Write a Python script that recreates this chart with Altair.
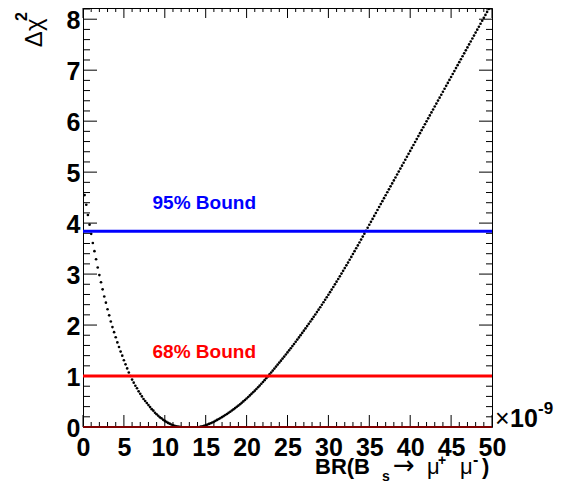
import altair as alt
import pandas as pd

# scan of delta chi2 vs BR(Bs -> mu mu), in units of 1e-9
SCAN_STEP = 0.2
LEFT_START = 0.2
RIGHT_START = 14.2

# left branch, 0.2 ... 12.0
DCHI2_LEFT = [
    4.55, 4.36, 4.16, 3.97, 3.79, 3.61, 3.45, 3.29, 3.13, 2.98,
    2.84, 2.70, 2.56, 2.44, 2.31, 2.19, 2.07, 1.96, 1.86, 1.76,
    1.66, 1.57, 1.48, 1.40, 1.31, 1.23, 1.15, 1.07, 1.00, 0.93,
    0.87, 0.81, 0.76, 0.70, 0.65, 0.60, 0.55, 0.51, 0.47, 0.43,
    0.39, 0.35, 0.32, 0.28, 0.25, 0.22, 0.19, 0.17, 0.14, 0.12,
    0.10, 0.08, 0.065, 0.05, 0.035, 0.025, 0.015, 0.008, 0.003, 0.0,
]

# right branch, 14.2 ... 50.0
DCHI2_RIGHT = [
    0.0, 0.007, 0.015, 0.024, 0.034, 0.047, 0.06, 0.074, 0.089, 0.104,
    0.121, 0.139, 0.157, 0.175, 0.194, 0.214, 0.235, 0.256, 0.278, 0.30,
    0.323, 0.347, 0.371, 0.395, 0.42, 0.447, 0.474, 0.502, 0.53, 0.559,
    0.589, 0.619, 0.65, 0.681, 0.713, 0.746, 0.779, 0.813, 0.848, 0.883,
    0.919, 0.956, 0.993, 1.031, 1.069, 1.107, 1.146, 1.185, 1.224, 1.263,
    1.302, 1.342, 1.382, 1.422, 1.463, 1.504, 1.545, 1.587, 1.629, 1.672,
    1.715, 1.758, 1.802, 1.846, 1.89, 1.934, 1.979, 2.024, 2.069, 2.115,
    2.161, 2.208, 2.255, 2.302, 2.35, 2.398, 2.447, 2.496, 2.545, 2.595,
    2.645, 2.696, 2.747, 2.799, 2.851, 2.903, 2.956, 3.009, 3.063, 3.117,
    3.171, 3.226, 3.281, 3.337, 3.393, 3.449, 3.506, 3.563, 3.62, 3.677,
    3.735, 3.793, 3.851, 3.909, 3.967, 4.025, 4.083, 4.141, 4.199, 4.257,
    4.315, 4.373, 4.431, 4.489, 4.547, 4.605, 4.663, 4.721, 4.779, 4.837,
    4.895, 4.953, 5.011, 5.069, 5.127, 5.185, 5.243, 5.301, 5.359, 5.417,
    5.475, 5.533, 5.591, 5.649, 5.707, 5.765, 5.823, 5.881, 5.939, 5.997,
    6.055, 6.113, 6.171, 6.229, 6.287, 6.345, 6.403, 6.461, 6.519, 6.577,
    6.635, 6.693, 6.751, 6.809, 6.867, 6.925, 6.983, 7.041, 7.099, 7.157,
    7.215, 7.273, 7.331, 7.389, 7.447, 7.505, 7.563, 7.621, 7.679, 7.737,
    7.795, 7.853, 7.911, 7.969, 8.027, 8.085, 8.143, 8.201, 8.259, 8.317,
]

BOUND_LEVELS = [3.84, 1.0]
BOUND_LABELS = ['95% Bound', '68% Bound']
BOUND_COLORS = ['#0000ff', '#ff0000']
LABEL_X = [8.5, 8.5]
LABEL_Y = [4.27, 1.36]

X_MAJOR = [0, 5, 10, 15, 20, 25, 30, 35, 40, 45, 50]
Y_MAJOR = [0, 1, 2, 3, 4, 5, 6, 7, 8]
X_MINOR = [v for v in range(0, 51) if v % 5]
Y_MINOR = [round(0.2 * i, 1) for i in range(1, 42) if i % 5]

# x-axis title pieces: BR(B_s -> mu+ mu-)
X_TITLE_PARTS = ['BR(B', 's', '→', 'μ', '+', 'μ', '-', ')']
Y_TITLE = 'Δχ'
Y_TITLE_SUP = '2'
EXPONENT_PARTS = ['×', '10', '-9']

XMAX, YMAX = 50, 8.22
W, H = 409, 419
FONT = 'Liberation Sans'

br = [round(LEFT_START + SCAN_STEP * i, 1) for i in range(len(DCHI2_LEFT))] + \
     [round(RIGHT_START + SCAN_STEP * i, 1) for i in range(len(DCHI2_RIGHT))]
scan = pd.DataFrame({'br': br, 'dchi2': DCHI2_LEFT + DCHI2_RIGHT})

xs = alt.Scale(domain=[0, XMAX], nice=False, zero=False)
ys = alt.Scale(domain=[0, YMAX], nice=False, zero=False)

points = alt.Chart(scan).mark_circle(size=7, color='black', opacity=1, clip=True).encode(
    x=alt.X('br:Q', scale=xs, axis=alt.Axis(
        values=X_MAJOR, format='d', ticks=False, tickSize=0, domain=False, grid=False,
        labelFont=FONT, labelFontWeight='bold', labelFontSize=25, labelColor='black',
        labelPadding=8, labelFlush=False, labelOverlap=False, title=None)),
    y=alt.Y('dchi2:Q', scale=ys, axis=alt.Axis(
        values=Y_MAJOR, format='d', ticks=False, tickSize=0, domain=False, grid=False,
        labelFont=FONT, labelFontWeight='bold', labelFontSize=25, labelColor='black',
        labelPadding=3, labelOffset=1.5, labelFlush=False, labelOverlap=False,
        title=Y_TITLE, titleFont=FONT, titleFontWeight='normal', titleFontSize=24,
        titleColor='black', titleAngle=270, titleAlign='right', titleBaseline='alphabetic',
        titleX=-42, titleY=10)),
)


def y_ticks(values, x0, x1):
    return alt.Chart(pd.DataFrame({'v': values})).mark_rule(color='black', strokeWidth=1).encode(
        y=alt.Y('v:Q', scale=ys, axis=None), x=alt.value(x0), x2=alt.value(x1))


def x_ticks(values, y0, y1):
    return alt.Chart(pd.DataFrame({'v': values})).mark_rule(color='black', strokeWidth=1).encode(
        x=alt.X('v:Q', scale=xs, axis=None), y=alt.value(y0), y2=alt.value(y1))


ticks = [
    y_ticks(Y_MAJOR, 0, 14), y_ticks(Y_MINOR, 0, 7),
    y_ticks(Y_MAJOR, W, W - 13), y_ticks(Y_MINOR, W, W - 6),
    x_ticks(X_MAJOR, H, H - 12), x_ticks(X_MINOR, H, H - 5),
    x_ticks(X_MAJOR, 0, 10), x_ticks(X_MINOR, 0, 4),
]

bounds_df = pd.DataFrame({'level': BOUND_LEVELS, 'x0': [0, 0], 'x1': [XMAX, XMAX],
                          'color': BOUND_COLORS, 'label': BOUND_LABELS,
                          'lx': LABEL_X, 'ly': LABEL_Y})

bounds = alt.Chart(bounds_df).mark_rule(strokeWidth=3).encode(
    y=alt.Y('level:Q', scale=ys, axis=None),
    x=alt.X('x0:Q', scale=xs, axis=None), x2='x1:Q',
    color=alt.Color('color:N', scale=None),
)

labels = alt.Chart(bounds_df).mark_text(
    font=FONT, fontWeight='bold', fontSize=19, align='left', baseline='alphabetic'
).encode(
    x=alt.X('lx:Q', scale=xs, axis=None),
    y=alt.Y('ly:Q', scale=ys, axis=None),
    text='label:N',
    color=alt.Color('color:N', scale=None),
)

# bottom edge line (dark red)
base_df = pd.DataFrame({'x0': [0], 'x1': [XMAX], 'y': [0]})
base_line = alt.Chart(base_df).mark_rule(color='#800000', strokeWidth=2).encode(
    x=alt.X('x0:Q', scale=xs, axis=None), x2='x1:Q', y=alt.Y('y:Q', scale=ys, axis=None))


def free_text(txt, px, py, size, weight, font=FONT, angle=0):
    # text placed in pixels relative to the plot's top-left corner
    return alt.Chart(pd.DataFrame({'t': [txt]})).mark_text(
        font=font, fontSize=size, fontWeight=weight, align='left', baseline='alphabetic',
        angle=angle, color='black'
    ).encode(x=alt.value(px), y=alt.value(py), text='t:N')


# (x, baseline, size, weight, font) for each title piece
x_title_layout = [(232, 466, 22, 'bold', FONT), (299, 473, 14, 'bold', FONT),
                  (310, 466, 26, 'normal', 'DejaVu Sans'), (344, 466, 22, 'normal', FONT),
                  (355, 457, 14, 'bold', FONT), (377, 466, 22, 'normal', FONT),
                  (390, 457, 16, 'bold', FONT), (399, 466, 22, 'bold', FONT)]
x_title = [free_text(t, *lay) for t, lay in zip(X_TITLE_PARTS, x_title_layout)]

y_sup = free_text(Y_TITLE_SUP, -56, 13, 16, 'bold', angle=270)

exp_layout = [(W + 3, H, 25, 'normal'), (W + 18, H, 25, 'bold'), (W + 46, H - 13, 17, 'bold')]
exponent = [free_text(t, *lay) for t, lay in zip(EXPONENT_PARTS, exp_layout)]

chart = alt.layer(points, *ticks, bounds, labels, base_line, *x_title, y_sup, *exponent).resolve_axis(
    x='independent', y='independent'
).properties(
    width=W, height=H,
    padding={'left': 75, 'top': 0, 'right': 73, 'bottom': 58},
    autosize=alt.AutoSizeParams(type='none'),
).configure(background='white').configure_view(stroke='black', strokeWidth=1)

chart.save("out.html", embed_options={"renderer": "svg", "actions": False})
